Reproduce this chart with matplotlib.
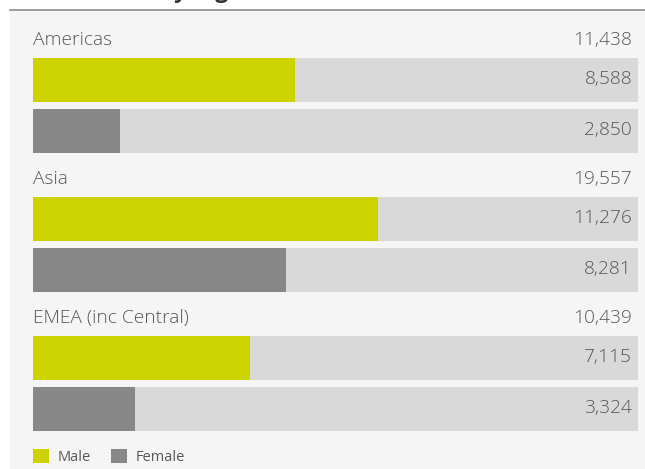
import matplotlib
matplotlib.use("Agg")
import matplotlib.pyplot as plt
from matplotlib.patches import Rectangle, Patch
from matplotlib.lines import Line2D
import matplotlib.transforms as mtransforms

plt.rcParams['font.family'] = ['Open Sans', 'DejaVu Sans']

regions = ["Americas", "Asia", "EMEA (inc Central)"]
totals = [11438, 19557, 10439]
male = [8588, 11276, 7115]
female = [2850, 8281, 3324]
legend_labels = ["Male", "Female"]

MALE_C = "#ccd300"
FEMALE_C = "#878787"
TRACK_C = "#d9d9d9"
PANEL_C = "#f5f5f5"
TEXT_C = "#585858"
XMAX = 19800

W, H = 645, 469
fig = plt.figure(figsize=(W / 100, H / 100), dpi=100)
fig.patch.set_facecolor("white")

# panel background and top rule
fig.patches.append(Rectangle((10 / W, 0), 1 - 10 / W, (H - 11) / H,
                             transform=fig.transFigure, facecolor=PANEL_C,
                             edgecolor="none", zorder=-10))
fig.lines.append(Line2D([10 / W, 1], [(H - 10.5) / H] * 2, transform=fig.transFigure,
                        color="#8a8a8a", lw=1.2, zorder=-5))
# cut-off title (only descenders visible)
fig.text(33 / W, 1 + 2 / H, "Headcount by region", fontsize=16, fontweight="bold",
         color="#333333", va="baseline", ha="left")

# axes in pixel units vertically
top_px, bot_px = 20, 440
ax = fig.add_axes([33 / W, (H - bot_px) / H, 605 / W, (bot_px - top_px) / H])
ax.set_zorder(5)
ax.set_xlim(0, XMAX)
ax.set_ylim(bot_px, top_px)
ax.axis("off")
ax.patch.set_alpha(0)

trans = mtransforms.blended_transform_factory(ax.transAxes, ax.transData)
xr = (632 - 33) / 605
step = 139
bar_h = 44
fs = 13.8
for i, reg in enumerate(regions):
    base = 40 + i * step
    ym = base + 40
    yf = base + 91
    ax.text(0, base, reg, transform=trans, ha="left", va="center",
            fontsize=fs, color=TEXT_C, fontweight="light")
    ax.text(xr, base, f"{totals[i]:,}", transform=trans, ha="right", va="center",
            fontsize=fs, color=TEXT_C, fontweight="light")
    ax.barh([ym, yf], [XMAX, XMAX], height=bar_h, left=0, color=TRACK_C, zorder=1)
    ax.barh([ym], [male[i]], height=bar_h, left=0, color=MALE_C, zorder=2)
    ax.barh([yf], [female[i]], height=bar_h, left=0, color=FEMALE_C, zorder=2)
    ax.text(xr, ym - 1, f"{male[i]:,}", transform=trans, ha="right", va="center",
            fontsize=fs, color=TEXT_C, fontweight="light", zorder=3)
    ax.text(xr, yf - 1, f"{female[i]:,}", transform=trans, ha="right", va="center",
            fontsize=fs, color=TEXT_C, fontweight="light", zorder=3)

handles = [Patch(facecolor=MALE_C, edgecolor="none"),
           Patch(facecolor=FEMALE_C, edgecolor="none")]
leg = fig.legend(handles, legend_labels, loc="center left",
                 bbox_to_anchor=(20 / W, (H - 457) / H), ncol=2, frameon=False,
                 handlelength=1.1, handleheight=1.1, handletextpad=0.6,
                 columnspacing=1.35, fontsize=10.5)
for t in leg.get_texts():
    t.set_color(TEXT_C)

fig.savefig("out.png", dpi=100, facecolor=fig.get_facecolor())
